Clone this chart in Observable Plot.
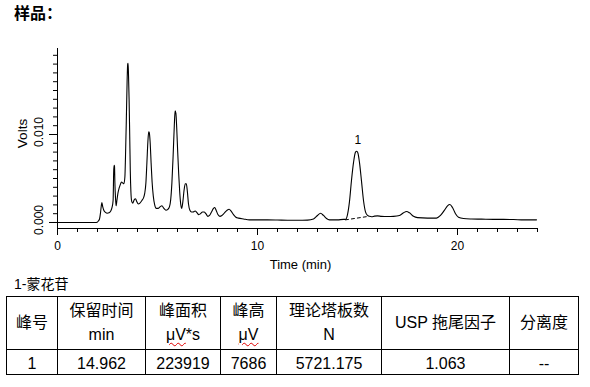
<!DOCTYPE html>
<html><head><meta charset="utf-8">
<script src="https://cdn.jsdelivr.net/npm/d3@7"></script>
<script src="https://cdn.jsdelivr.net/npm/@observablehq/plot@0.6"></script>
<style>
html,body{margin:0;padding:0;background:#fff;}
body{position:relative;width:590px;height:387px;overflow:hidden;font-family:"Liberation Sans","Noto Sans CJK SC",sans-serif;color:#000;}
#title{position:absolute;left:14px;top:3.6px;font-weight:bold;font-size:16px;line-height:16px;font-family:"Noto Sans CJK SC",sans-serif;white-space:nowrap;color:#000;}
#chart{position:absolute;left:0;top:0;}
#caption{position:absolute;left:14px;top:276.5px;font-size:14px;line-height:14px;white-space:nowrap;color:#000;}
table{position:absolute;left:6px;top:296px;border-collapse:collapse;table-layout:fixed;width:572px;}
td{border:1px solid #000;padding:0;text-align:center;font-size:16px;white-space:nowrap;color:#000;}
tr.head td{height:52px;line-height:24px;vertical-align:middle;}
tr.data td{height:24px;line-height:20px;vertical-align:top;padding-top:4px;box-sizing:border-box;}
.sq{text-decoration:underline wavy #e00000;text-decoration-thickness:1px;text-underline-offset:2px;}
</style>
</head><body>
<div id="title"></div>
<div id="chart"></div>
<div id="caption"></div>
<table id="tbl"></table>
<script>
// ---------- data ----------
const chromTime = [0.0,1.9,1.98,2.05,2.1,2.15,2.19,2.22,2.26,2.32,2.40,2.48,2.58,2.66,2.73,2.78,2.81,2.83,2.85,2.87,2.90,2.93,2.97,3.02,3.08,3.14,3.20,3.26,3.32,3.37,3.40,3.44,3.48,3.51,3.53,3.55,3.58,3.61,3.64,3.67,3.71,3.76,3.84,3.90,3.96,4.04,4.12,4.22,4.30,4.36,4.42,4.47,4.52,4.56,4.59,4.63,4.68,4.73,4.79,4.86,4.94,5.04,5.14,5.22,5.32,5.42,5.52,5.60,5.66,5.72,5.78,5.84,5.88,5.92,5.96,6.01,6.06,6.11,6.16,6.21,6.27,6.33,6.39,6.44,6.49,6.55,6.62,6.70,6.78,6.88,6.98,7.06,7.15,7.25,7.33,7.42,7.52,7.60,7.70,7.80,7.86,7.93,8.02,8.12,8.22,8.35,8.48,8.58,8.68,8.80,8.92,9.05,9.30,9.60,10.0,10.5,11.0,11.5,12.0,12.5,12.8,13.0,13.15,13.3,13.45,13.6,14.0,14.3,14.4,14.5,14.6,14.7,14.8,14.9,14.96,15.02,15.1,15.2,15.3,15.4,15.5,15.6,15.7,15.85,16.0,16.2,16.5,16.8,17.1,17.3,17.45,17.6,17.8,18.0,18.5,18.95,19.15,19.35,19.5,19.62,19.75,19.9,20.05,20.3,20.7,21.2,21.8,22.3,22.8,23.3,23.95];
const chromVolts = [0.0,0.0,0.00003,0.0002,0.0004,0.0011,0.0019,0.00226,0.0018,0.00137,0.00115,0.00105,0.0011,0.0013,0.00175,0.0025,0.0058,0.0065,0.0064,0.0045,0.0028,0.0019,0.0025,0.0033,0.0039,0.0043,0.0046,0.0045,0.0044,0.0052,0.0075,0.0115,0.0160,0.0180,0.0181,0.0168,0.0140,0.0100,0.0058,0.0035,0.0024,0.0022,0.0026,0.0027,0.0024,0.0021,0.0022,0.0025,0.0028,0.0033,0.0045,0.0068,0.0092,0.0103,0.0102,0.0092,0.0068,0.0046,0.0030,0.0020,0.0016,0.0016,0.0018,0.0019,0.0016,0.0014,0.0015,0.0018,0.0026,0.0045,0.0075,0.0110,0.0127,0.0124,0.0108,0.0080,0.0055,0.0035,0.0021,0.0016,0.0024,0.0037,0.0044,0.0044,0.0036,0.0021,0.0014,0.0012,0.0012,0.0013,0.0011,0.0009,0.0010,0.0012,0.0012,0.0010,0.0007,0.0008,0.0012,0.0016,0.0017,0.0014,0.0009,0.0007,0.0008,0.0011,0.0014,0.0015,0.0013,0.0009,0.0006,0.0005,0.0004,0.0003,0.0003,0.0003,0.00028,0.00025,0.00025,0.00027,0.0004,0.0008,0.00105,0.0008,0.00045,0.0003,0.0003,0.00035,0.00035,0.0009,0.0024,0.0048,0.0068,0.0080,0.0081,0.0079,0.0068,0.0047,0.0025,0.0012,0.0008,0.0007,0.00065,0.00072,0.00075,0.0007,0.00068,0.0007,0.0008,0.0011,0.00125,0.0011,0.0007,0.00055,0.0005,0.0005,0.0008,0.0014,0.0019,0.00205,0.0017,0.0010,0.0006,0.00045,0.0004,0.00038,0.00035,0.00035,0.00034,0.0003,0.0003];
const baseTime = [14.4, 15.5];
const baseVolts = [0.0003, 0.00068];
const peakTimes = [14.962];
const peakVolts = [0.0081];
const peakLabels = ["1"];
const xMinorTicks = d3.range(0, 25, 1);
const xMajorTicks = [0, 10, 20];
const yMinorTicks = d3.range(0, 20).map(i => i / 1000);
const yMajorTicks = [0.000, 0.010];
const xLabel = "Time (min)";
const yLabel = "Volts";
const titleText = "样品：";
const captionText = "1-蒙花苷";
const headLine1 = ["峰号", "保留时间", "峰面积", "峰高", "理论塔板数", "USP 拖尾因子", "分离度"];
const headLine2 = ["", "min", "μV*s", "μV", "N", "", ""];
const rowValues = ["1", "14.962", "223919", "7686", "5721.175", "1.063", "--"];
const colWidths = [51, 88, 75, 56, 105, 128, 69];

// ---------- chart ----------
const chrom = chromTime.map((t, i) => ({t, v: chromVolts[i]}));
const base = baseTime.map((t, i) => ({t, v: baseVolts[i]}));
const peaks = peakTimes.map((t, i) => ({t, v: peakVolts[i], label: peakLabels[i]}));
const yMin = -0.000682, yMax = 0.019773;
const blank = () => "";

const plot = Plot.plot({
  width: 590, height: 280,
  marginLeft: 57, marginRight: 53, marginTop: 48, marginBottom: 52,
  x: {domain: [0, 24]},
  y: {domain: [yMin, yMax]},
  style: {fontFamily: "'Liberation Sans', Arial, sans-serif", color: "#000", background: "transparent", overflow: "visible"},
  marks: [
    Plot.ruleX([0], {stroke: "#000"}),
    Plot.ruleY([yMin], {stroke: "#000"}),
    Plot.axisX({ticks: xMinorTicks, tickSize: 4, tickFormat: blank, label: null, stroke: "#000"}),
    Plot.axisX({ticks: xMajorTicks, tickSize: 7, tickPadding: 6, fontSize: 12, label: null, stroke: "#000", fill: "#000"}),
    Plot.axisY({ticks: yMinorTicks, tickSize: 4, tickFormat: blank, label: null, stroke: "#000"}),
    Plot.axisY({ticks: yMajorTicks, tickSize: 8, tickFormat: blank, label: null, stroke: "#000"}),
    Plot.text(yMajorTicks, {y: d => d, frameAnchor: "left", text: d => d3.format(".3f")(d), rotate: -90, dx: -18, dy: -2.5, fontSize: 12, textAnchor: "middle", lineAnchor: "middle", fill: "#000"}),
    Plot.text([yLabel], {frameAnchor: "left", text: d => d, rotate: -90, dx: -34.5, dy: -5, fontSize: 13.5, textAnchor: "middle", lineAnchor: "middle", fill: "#000"}),
    Plot.text([xLabel], {frameAnchor: "bottom", text: d => d, dx: 3, dy: 31.5, fontSize: 13, textAnchor: "middle", lineAnchor: "top", fill: "#000"}),
    Plot.line(base, {x: "t", y: "v", stroke: "#000", strokeWidth: 1, strokeDasharray: "3,3"}),
    Plot.line(chrom, {x: "t", y: "v", stroke: "#000", strokeWidth: 1.1, curve: "monotone-x"}),
    Plot.text(peaks, {x: "t", y: "v", text: "label", dx: 1, dy: -16, fontSize: 12, lineAnchor: "top", fill: "#000"})
  ]
});
document.getElementById("chart").appendChild(plot);

// ---------- texts and table ----------
document.getElementById("title").textContent = titleText;
document.getElementById("caption").textContent = captionText;
const tbl = document.getElementById("tbl");
const cg = document.createElement("colgroup");
colWidths.forEach(w => { const c = document.createElement("col"); c.style.width = w + "px"; cg.appendChild(c); });
tbl.appendChild(cg);
const trH = document.createElement("tr"); trH.className = "head";
headLine1.forEach((h, i) => {
  const td = document.createElement("td");
  td.appendChild(document.createTextNode(h));
  const l2 = headLine2[i];
  if (l2) {
    td.appendChild(document.createElement("br"));
    if (l2.startsWith("μV")) {
      const s = document.createElement("span"); s.className = "sq"; s.textContent = "μV";
      td.appendChild(s);
      td.appendChild(document.createTextNode(l2.slice(2)));
    } else td.appendChild(document.createTextNode(l2));
  }
  trH.appendChild(td);
});
tbl.appendChild(trH);
const trD = document.createElement("tr"); trD.className = "data";
rowValues.forEach(v => { const td = document.createElement("td"); td.textContent = v; trD.appendChild(td); });
tbl.appendChild(trD);
</script>
</body></html>
